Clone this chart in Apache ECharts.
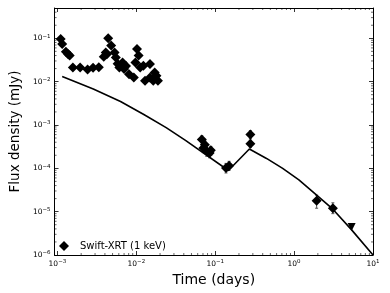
<!DOCTYPE html>
<html><head><meta charset="utf-8">
<script src="https://cdn.jsdelivr.net/npm/echarts@6/dist/echarts.min.js"></script>
<style>html,body{margin:0;padding:0;background:#fff}#c{width:390px;height:293px}</style>
</head><body><div id="c"></div>
<script>
// ---- data ----
const xrtTime = [0.0011,0.00115,0.00128,0.00137,0.00143,0.00157,0.00194,0.00241,0.00283,0.00335,
  0.00387,0.00424,0.0041,0.0044,0.0048,0.0053,0.0055,0.0058,0.0061,0.0067,0.0070,0.0074,0.0081,0.0093,
  0.0102,0.0107,0.00975,0.0112,0.0123,0.0149,0.0129,0.0149,0.0164,0.018,0.0188,0.0171];
const xrtFlux = [0.096,0.074,0.049,0.043,0.040,0.0213,0.0213,0.019,0.021,0.0215,
  0.0377,0.043,0.047,0.10,0.068,0.047,0.036,0.026,0.0213,0.0278,0.0195,0.023,0.0149,0.0125,
  0.0566,0.040,0.0278,0.0213,0.0233,0.0254,0.0105,0.0125,0.0105,0.0137,0.0105,0.0163];
const lateTime = [0.0677,0.0708,0.074,0.078,0.085,0.088,0.137,0.15,0.279,0.279,1.93,3.1];
const lateFlux = [4.6e-4,2.95e-4,3.5e-4,2.46e-4,2.26e-4,2.6e-4,1.02e-4,1.15e-4,6.0e-4,3.7e-4,1.78e-5,1.2e-5];
const lateLo   = [3.6e-4,2.3e-4,2.8e-4,1.9e-4,1.75e-4,2.0e-4,7.8e-5,9e-5,4.9e-4,3.0e-4,1.2e-5,9e-6];
const lateHi   = [5.6e-4,3.6e-4,4.3e-4,3.0e-4,2.8e-4,3.2e-4,1.3e-4,1.45e-4,7.4e-4,4.5e-4,2.4e-5,1.6e-5];
const ulTime = [5.36];
const ulFlux = [4.4e-6];
const modelTime = [0.00115,0.00285,0.00631,0.01245,0.0239,0.042,0.147,0.271,0.447,0.716,1.15,1.85,3.1,5.36,10];
const modelFlux = [0.0132,6.78e-3,3.48e-3,1.74e-3,8.7e-4,4.4e-4,8.9e-5,2.8e-4,1.69e-4,9.95e-5,5.4e-5,2.58e-5,1.14e-5,3.8e-6,1e-6];
const xMin = 0.00092, xMax = 10, yMin = 1e-6, yMax = 0.5;
const legendName = 'Swift-XRT (1 keV)';
const xTitle = 'Time (days)', yTitle = 'Flux density (mJy)';

const FONT = 'DejaVu Sans';
function powLabel(v){
  const e = Math.log10(v), r = Math.round(e);
  if (Math.abs(e - r) > 1e-6) return '';
  return '{b|10}{s|' + (r < 0 ? '\u2212' + (-r) : String(r)) + '}';
}
const rich = {
  b:{fontSize:7.5,fontFamily:FONT,color:'#000',lineHeight:10},
  s:{fontSize:5.5,fontFamily:FONT,color:'#000',verticalAlign:'top',lineHeight:10}
};
const lateData = lateTime.map((t,i)=>[t,lateFlux[i]]);
const errData = lateTime.map((t,i)=>[t,lateLo[i],lateHi[i]]);
const allPts = xrtTime.map((t,i)=>[t,xrtFlux[i]]).concat(lateData);

const chart = echarts.init(document.getElementById('c'),null,{renderer:'canvas'});
const axisCommon = {
  type:'log', logBase:10,
  axisLine:{show:true,lineStyle:{color:'#000',width:1}},
  axisTick:{show:true,inside:true,length:4,lineStyle:{color:'#000',width:0.8}},
  splitLine:{show:false}, minorTick:{show:false}
};
chart.setOption({
  animation:false,
  backgroundColor:'#fff',
  grid:{left:45,right:17,top:8,bottom:38,containLabel:false},
  legend:{
    data:[legendName], left:54, top:236, itemWidth:10, itemHeight:10, icon:'diamond',
    textStyle:{fontFamily:FONT,fontSize:10,color:'#000',padding:[0,0,0,6]}
  },
  xAxis:[
    Object.assign({}, axisCommon, {min:xMin,max:xMax,position:'bottom',
      name:xTitle,nameLocation:'middle',nameGap:18,
      nameTextStyle:{fontFamily:FONT,fontSize:14,color:'#000'},
      axisLabel:{formatter:powLabel,rich:rich,margin:4,showMinLabel:false}}),
    Object.assign({}, axisCommon, {min:xMin,max:xMax,position:'top',axisLabel:{show:false}})
  ],
  yAxis:[
    Object.assign({}, axisCommon, {min:yMin,max:yMax,position:'left',
      name:yTitle,nameLocation:'middle',nameGap:26,
      nameTextStyle:{fontFamily:FONT,fontSize:13.5,color:'#000'},
      axisLabel:{formatter:powLabel,rich:rich,margin:4,showMaxLabel:false}}),
    Object.assign({}, axisCommon, {min:yMin,max:yMax,position:'right',axisLabel:{show:false}})
  ],
  series:[
    {
      type:'custom', name:'minorTicks', silent:true, z:1,
      data:[[0.01,0.001]],
      renderItem:function(params, api){
        const cs = params.coordSys, ch = [];
        const st = {stroke:'#000',lineWidth:0.6};
        for (let n=-4;n<=1;n++) for (let k=2;k<=9;k++){
          const v = k*Math.pow(10,n);
          if (v > xMin && v < xMax){
            const x = api.coord([v,0.001])[0];
            ch.push({type:'line',shape:{x1:x,y1:cs.y+cs.height,x2:x,y2:cs.y+cs.height-2},style:st});
            ch.push({type:'line',shape:{x1:x,y1:cs.y,x2:x,y2:cs.y+2},style:st});
          }
        }
        for (let n=-7;n<=0;n++) for (let k=2;k<=9;k++){
          const v = k*Math.pow(10,n);
          if (v > yMin && v < yMax){
            const y = api.coord([0.01,v])[1];
            ch.push({type:'line',shape:{x1:cs.x,y1:y,x2:cs.x+2,y2:y},style:st});
            ch.push({type:'line',shape:{x1:cs.x+cs.width,y1:y,x2:cs.x+cs.width-2,y2:y},style:st});
          }
        }
        return {type:'group',children:ch};
      }
    },
    {
      type:'custom', name:'errors', silent:true, z:2,
      data:errData, encode:{x:0,y:[1,2]},
      renderItem:function(params, api){
        const a = api.coord([api.value(0),api.value(1)]);
        const b = api.coord([api.value(0),api.value(2)]);
        const st = {stroke:'#555',lineWidth:1};
        return {type:'group',children:[
          {type:'line',shape:{x1:a[0],y1:a[1],x2:b[0],y2:b[1]},style:st},
          {type:'line',shape:{x1:a[0]-1.5,y1:a[1],x2:a[0]+1.5,y2:a[1]},style:st},
          {type:'line',shape:{x1:b[0]-1.5,y1:b[1],x2:b[0]+1.5,y2:b[1]},style:st}
        ]};
      }
    },
    {
      type:'line', name:'model', data:modelTime.map((t,i)=>[t,modelFlux[i]]),
      showSymbol:false, symbol:'none', clip:true, z:3,
      lineStyle:{color:'#000',width:1.6}
    },
    {
      type:'scatter', name:legendName, data:allPts, symbol:'diamond', symbolSize:10, z:4,
      itemStyle:{color:'#000',opacity:1}
    },
    {
      type:'scatter', name:'ul', data:ulTime.map((t,i)=>[t,ulFlux[i]]), symbol:'triangle',
      symbolRotate:180, symbolSize:8, z:4, itemStyle:{color:'#000',opacity:1}
    }
  ]
});
</script></body></html>
